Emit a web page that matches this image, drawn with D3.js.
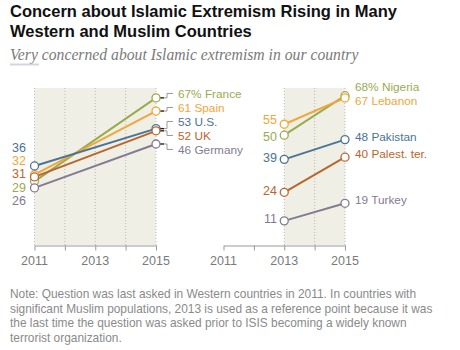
<!DOCTYPE html>
<html>
<head>
<meta charset="utf-8">
<script src="https://cdn.jsdelivr.net/npm/d3@7"></script>
<style>
  body { margin: 0; background: #fff; }
  text { font-family: "Liberation Sans", Arial, sans-serif; }
</style>
</head>
<body>
<div id="chart"></div>
<script>
const width = 460;
const height = 350;

// data
const years = [2011, 2012, 2013, 2014, 2015];
const tickYears = [2011, 2013, 2015];
const westCountries = ["France", "Spain", "U.S.", "UK", "Germany"];
const west2011 = [29, 32, 36, 31, 26];
const west2015 = [67, 61, 53, 52, 46];
const muslimCountries = ["Nigeria", "Lebanon", "Pakistan", "Palest. ter.", "Turkey"];
const muslim2013 = [50, 55, 39, 24, 11];
const muslim2015 = [68, 67, 48, 40, 19];
const seriesColors = ["#9aab4f", "#f2a53a", "#4b7394", "#b8662d", "#847a92"];

const svg = d3.create("svg")
    .attr("width", width)
    .attr("height", height)
    .attr("viewBox", [0, 0, width, height]);

// titles
const title = svg.append("text")
    .attr("x", 10)
    .attr("font-weight", "bold")
    .attr("font-size", "16.5px")
    .attr("fill", "#111");
title.append("tspan").attr("x", 10).attr("y", 17).text("Concern about Islamic Extremism Rising in Many");
title.append("tspan").attr("x", 10).attr("y", 37).text("Western and Muslim Countries");

svg.append("text")
    .attr("x", 10)
    .attr("y", 60)
    .style("font-family", "'Liberation Serif', Georgia, serif")
    .attr("font-style", "italic")
    .attr("font-size", "15.7px")
    .attr("fill", "#7a7a7a")
    .text("Very concerned about Islamic extremism in our country");

svg.append("line")
    .attr("x1", 10).attr("x2", 39)
    .attr("y1", 64.5).attr("y2", 64.5)
    .attr("stroke", "#d6d2e4")
    .attr("stroke-width", 2);

const y = d3.scaleLinear().domain([0, 71.5]).range([245, 88]);

// spread labels so they don't overlap
function spread(pos, gap) {
    const order = d3.range(pos.length).sort((a, b) => pos[a] - pos[b]);
    const p = order.map(i => pos[i]);
    for (let k = 0; k < 100; k++) {
        for (let i = 1; i < p.length; i++) {
            const d = p[i] - p[i - 1];
            if (d < gap) {
                p[i - 1] -= (gap - d) / 2;
                p[i] += (gap - d) / 2;
            }
        }
    }
    const out = [];
    order.forEach((i, j) => out[i] = p[j]);
    return out;
}

function drawPanel(opts) {
    const x = d3.scaleLinear().domain([2011, 2015]).range(opts.range);
    const g = svg.append("g");

    // shaded area
    g.append("rect")
        .attr("x", x(opts.start))
        .attr("y", y.range()[1])
        .attr("width", x(2015) - x(opts.start))
        .attr("height", y.range()[0] - y.range()[1])
        .attr("fill", "#f0efe6");

    g.selectAll(".grid")
        .data(years.filter(d => d >= opts.start))
        .join("line")
        .attr("x1", d => x(d)).attr("x2", d => x(d))
        .attr("y1", y.range()[1]).attr("y2", y.range()[0])
        .attr("stroke", "#aaa")
        .attr("stroke-width", 0.8)
        .attr("stroke-dasharray", "1,2");

    // axis
    const axis = g.append("g")
        .attr("transform", `translate(0,${y(0) + 0.5})`)
        .call(d3.axisBottom(x).tickValues(years).tickSize(5).tickSizeOuter(0).tickFormat(""));
    axis.select(".domain").attr("stroke", "#999");
    axis.selectAll(".tick line").attr("stroke", "#999");

    g.selectAll(".yr")
        .data(tickYears)
        .join("text")
        .attr("x", d => x(d))
        .attr("y", y(0) + 20)
        .attr("text-anchor", "middle")
        .attr("font-size", "12.5px")
        .attr("fill", "#7a7a7a")
        .text(d => d);

    const n = opts.names.length;
    const idx = d3.range(n);

    g.selectAll(".series")
        .data(idx)
        .join("line")
        .attr("x1", x(opts.start)).attr("x2", x(2015))
        .attr("y1", i => y(opts.first[i]))
        .attr("y2", i => y(opts.last[i]))
        .attr("stroke", i => seriesColors[i])
        .attr("stroke-width", 2);

    // start labels
    const startPos = spread(idx.map(i => y(opts.first[i])), opts.startGap);
    g.selectAll(".startLabel")
        .data(idx)
        .join("text")
        .attr("x", opts.startLabelX)
        .attr("y", i => startPos[i] + opts.startShift)
        .attr("dy", "0.35em")
        .attr("text-anchor", "end")
        .attr("font-size", "12.5px")
        .attr("fill", i => seriesColors[i])
        .text(i => opts.first[i]);

    // end labels
    const endPos = spread(idx.map(i => y(opts.last[i])), opts.endGap);
    const x2 = x(2015);
    if (opts.leaders) {
        idx.forEach(i => {
            const py = y(opts.last[i]);
            const ly = endPos[i] + opts.endShift;
            g.append("path")
                .attr("d", `M${x2 + 4},${py}H${x2 + 8}`)
                .attr("stroke", "#222")
                .attr("stroke-width", 1.4)
                .attr("fill", "none");
            g.append("path")
                .attr("d", `M${x2 + 8},${py}H${x2 + 11}V${ly}H${x2 + 17}`)
                .attr("stroke", "#999")
                .attr("stroke-width", 1)
                .attr("fill", "none");
        });
    }
    g.selectAll(".endLabel")
        .data(idx)
        .join("text")
        .attr("x", x2 + opts.endLabelDx)
        .attr("y", i => endPos[i] + opts.endShift)
        .attr("dy", "0.35em")
        .attr("font-size", "11.8px")
        .attr("fill", i => seriesColors[i])
        .text(i => (i === 0 ? opts.last[i] + "% " : opts.last[i] + " ") + opts.names[i]);

    // points
    idx.forEach(i => {
        [[opts.start, opts.first[i]], [2015, opts.last[i]]].forEach(([yr, v]) => {
            g.append("circle")
                .attr("cx", x(yr))
                .attr("cy", y(v))
                .attr("r", 4)
                .attr("fill", "#fff")
                .attr("stroke", seriesColors[i])
                .attr("stroke-width", 1.3);
        });
    });
}

drawPanel({
    range: [34.5, 156],
    start: 2011,
    names: westCountries,
    first: west2011,
    last: west2015,
    startLabelX: 26,
    startGap: 13.3,
    startShift: -3.5,
    endGap: 14,
    endShift: -1,
    endLabelDx: 22,
    leaders: true
});

drawPanel({
    range: [223.5, 345],
    start: 2013,
    names: muslimCountries,
    first: muslim2013,
    last: muslim2015,
    startLabelX: 277,
    startGap: 17,
    startShift: -2,
    endGap: 14,
    endShift: -3,
    endLabelDx: 10,
    leaders: false
});

// note
const note = svg.append("text")
    .attr("font-size", "11.9px")
    .attr("fill", "#8a8a8a");
[
    "Note: Question was last asked in Western countries in 2011. In countries with",
    "significant Muslim populations, 2013 is used as a reference point because it was",
    "the last time the question was asked prior to ISIS becoming a widely known",
    "terrorist organization."
].forEach((t, i) => note.append("tspan").attr("x", 10).attr("y", 298 + i * 14.5).text(t));

document.getElementById("chart").appendChild(svg.node());
</script>
</body>
</html>
